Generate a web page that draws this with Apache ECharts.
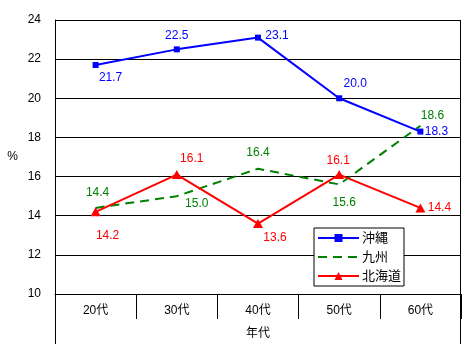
<!DOCTYPE html>
<html><head><meta charset="utf-8">
<script src="https://cdn.jsdelivr.net/npm/echarts@6/dist/echarts.min.js"></script>
<style>html,body{margin:0;padding:0;background:#fff}#c{width:476px;height:360px}</style>
</head><body><div id="c"></div>
<script>
const categories = ['20代','30代','40代','50代','60代'];
const okinawa = [21.7, 22.5, 23.1, 20.0, 18.3];
const kyushu = [14.4, 15.0, 16.4, 15.6, 18.6];
const hokkaido = [14.2, 16.1, 13.6, 16.1, 14.4];
const seriesNames = ['沖縄','九州','北海道'];
const yTicks = [10, 12, 14, 16, 18, 20, 22, 24];

const FONT = '"Liberation Sans", "Noto Sans CJK JP", sans-serif';
const offsets = {
  okinawa: [[15,13],[0,-14],[19,-2],[16,-15],[16,0]],
  kyushu: [[2,-15],[20,8],[0,-16],[5,18],[12,-10]],
  hokkaido: [[12,24],[15,-16],[17,14],[-1,-14],[19,0]]
};
function build(vals, offs) {
  return vals.map((v, i) => ({
    value: v,
    label: { offset: offs[i] }
  }));
}
function lbl(color) {
  return { show: true, position: 'inside', color: color, fontSize: 12, fontFamily: FONT,
    align: 'center', verticalAlign: 'middle', formatter: p => p.value.toFixed(1) };
}
const chart = echarts.init(document.getElementById('c'));
chart.setOption({
  animation: false,
  backgroundColor: '#fff',
  textStyle: { fontFamily: FONT },
  grid: { left: 55, right: 15, top: 20, bottom: 66 },
  xAxis: {
    type: 'category', data: categories, boundaryGap: true,
    name: '年代', nameLocation: 'middle', nameGap: 34,
    nameTextStyle: { color: '#000', fontSize: 12, fontFamily: FONT },
    axisLine: { lineStyle: { color: '#000', width: 1 } },
    axisTick: { show: true, length: 25, interval: 0, lineStyle: { color: '#000' } },
    axisLabel: { color: '#000', fontSize: 12, margin: 11, fontFamily: FONT, interval: 0 }
  },
  yAxis: {
    type: 'value', min: yTicks[0], max: yTicks[yTicks.length-1], interval: 2,
    name: '%', nameLocation: 'middle', nameRotate: 0, nameGap: 37,
    nameTextStyle: { color: '#000', fontSize: 12, fontFamily: FONT },
    axisLine: { show: true, lineStyle: { color: '#000' } },
    axisTick: { show: false },
    axisLabel: { color: '#000', fontSize: 12, margin: 14, fontFamily: FONT },
    splitLine: { show: true, lineStyle: { color: '#000', width: 1 } }
  },
  legend: {
    data: [
      { name: seriesNames[0] },
      { name: seriesNames[1] },
      { name: seriesNames[2] }
    ],
    orient: 'vertical', left: 314, top: 228,
    backgroundColor: '#fff', borderColor: '#000', borderWidth: 1, borderRadius: 0,
    padding: [3, 3, 3, 3], itemGap: 5, itemWidth: 41, itemHeight: 10,
    textStyle: { color: '#000', fontSize: 13, fontFamily: FONT, padding: [0,0,0,-2], lineHeight: 14 }
  },
  graphic: [
    { type: 'line', shape: { x1: 55.5, y1: 20, x2: 55.5, y2: 344 }, style: { stroke: '#000', lineWidth: 1 }, z: 1 },
    { type: 'line', shape: { x1: 460.5, y1: 20, x2: 460.5, y2: 344 }, style: { stroke: '#000', lineWidth: 1 }, z: 1 }
  ],
  series: [
    {
      name: seriesNames[0], type: 'line', data: build(okinawa, offsets.okinawa),
      symbol: 'rect', symbolSize: 6, color: '#0000FF',
      lineStyle: { color: '#0000FF', width: 2 }, itemStyle: { color: '#0000FF' },
      label: lbl('#0000FF'), z: 4
    },
    {
      name: seriesNames[1], type: 'line', data: build(kyushu, offsets.kyushu),
      symbol: 'circle', symbolSize: 1, showSymbol: true, color: '#008000',
      lineStyle: { color: '#008000', width: 2, type: [9, 6] }, itemStyle: { color: 'rgba(0,0,0,0)' },
      label: lbl('#008000'), z: 3
    },
    {
      name: seriesNames[2], type: 'line', data: build(hokkaido, offsets.hokkaido),
      symbol: 'triangle', symbolSize: [10, 9], color: '#FF0000',
      lineStyle: { color: '#FF0000', width: 2 }, itemStyle: { color: '#FF0000' },
      label: lbl('#FF0000'), z: 5
    }
  ]
});
</script></body></html>
